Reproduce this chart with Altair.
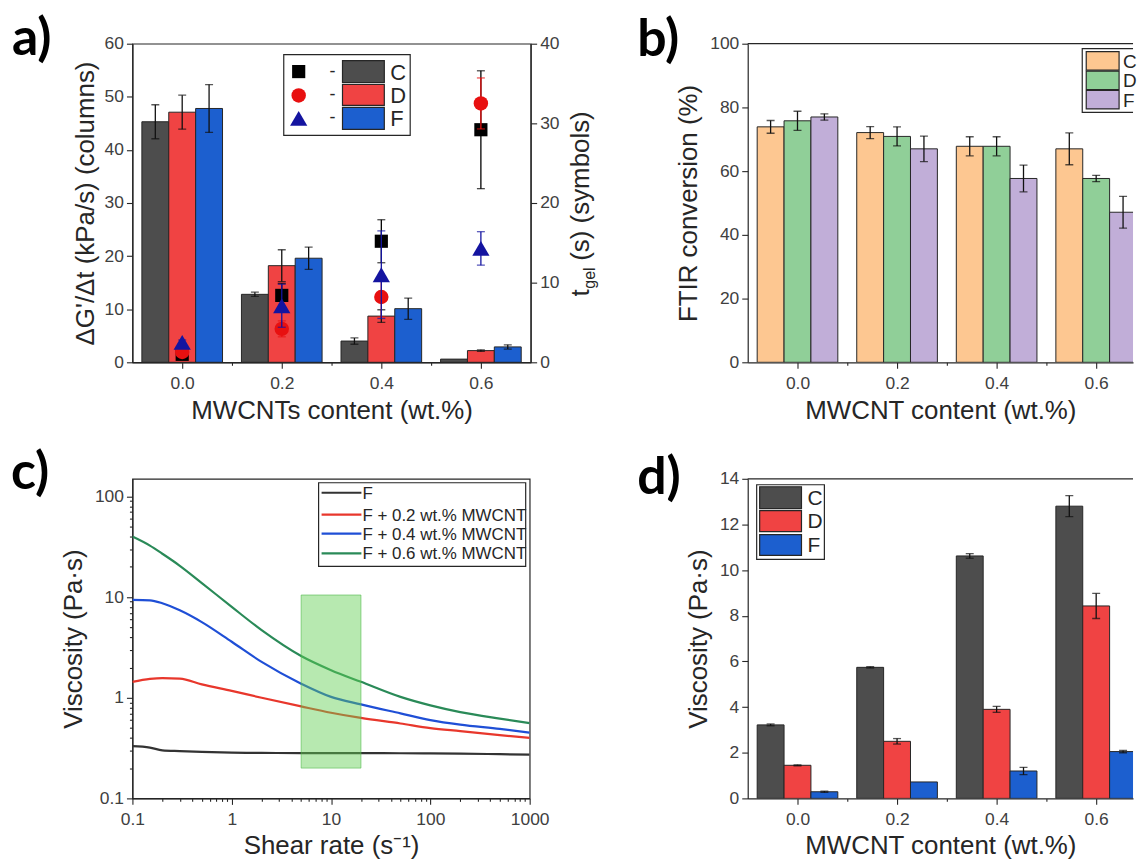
import altair as alt
import pandas as pd

# ------------------------------------------------------------------ data
contents = [0.0, 0.2, 0.4, 0.6]
groups = ["C", "D", "F"]

# a) gelation rate (columns, left axis) and gel time (symbols, right axis)
rate_C = [45.3, 12.8, 4.0, 0.6]
rate_D = [47.1, 18.2, 8.7, 2.2]
rate_F = [47.8, 19.6, 10.1, 2.9]
rate_err_C = [3.2, 0.4, 0.6, 0.0]
rate_err_D = [3.2, 3.0, 1.2, 0.15]
rate_err_F = [4.5, 2.1, 2.0, 0.4]

tgel_C = [1.0, 8.4, 15.2, 29.2]
tgel_D = [1.3, 4.2, 8.2, 32.5]
tgel_F = [2.5, 7.1, 11.0, 14.3]
tgel_err_C = [0.3, 1.5, 2.7, 7.4]
tgel_err_D = [0.4, 1.0, 2.5, 3.2]
tgel_err_F = [0.3, 2.7, 5.5, 2.1]

# b) FTIR conversion
ftir_C = [73.9, 72.1, 67.8, 67.0]
ftir_D = [75.8, 70.9, 67.8, 57.7]
ftir_F = [77.0, 67.0, 57.7, 47.1]
ftir_err_C = [2.0, 1.9, 3.0, 5.0]
ftir_err_D = [3.0, 3.0, 3.0, 1.0]
ftir_err_F = [1.0, 4.0, 4.2, 5.0]

# c) flow curves
shear_rate = [0.1, 0.15, 0.2, 0.3, 0.5, 1, 2, 5, 10, 20, 50, 100, 200, 500, 1000]
eta_F = [0.33, 0.32, 0.30, 0.295, 0.29, 0.285, 0.283, 0.282, 0.282, 0.282, 0.281, 0.28, 0.278, 0.275, 0.272]
eta_F02 = [1.44, 1.54, 1.57, 1.55, 1.36, 1.17, 1.0, 0.82, 0.71, 0.63, 0.555, 0.50, 0.466, 0.425, 0.40]
eta_F04 = [9.4, 9.3, 8.7, 7.4, 5.65, 3.6, 2.27, 1.38, 1.02, 0.86, 0.70, 0.60, 0.54, 0.49, 0.45]
eta_F06 = [40, 32.5, 27, 20.5, 13.8, 8.0, 4.7, 2.6, 1.88, 1.44, 1.02, 0.84, 0.72, 0.62, 0.56]
curve_names = ["F", "F + 0.2 wt.% MWCNT", "F + 0.4 wt.% MWCNT", "F + 0.6 wt.% MWCNT"]
window_rate = [5, 20]
window_eta = [0.2, 10.5]

# d) viscosity
visc_C = [3.22, 5.74, 10.62, 12.8]
visc_D = [1.45, 2.5, 3.9, 8.43]
visc_F = [0.29, 0.72, 1.2, 2.05]
visc_err_C = [0.04, 0.03, 0.1, 0.46]
visc_err_D = [0.02, 0.12, 0.13, 0.55]
visc_err_F = [0.03, 0.0, 0.16, 0.05]

# ------------------------------------------------------------------ style
FONT = "Liberation Sans"
LETTER_FONT = "Lato"
AX = "#262626"
LBL = "#404040"
BAR_COLORS = ["#4d4d4d", "#f04343", "#1c5fcf"]
FTIR_COLORS = ["#fdc791", "#90cf98", "#c1aed8"]
SYM_COLORS = ["#000000", "#e81010", "#1414a0"]
CURVE_COLORS = ["#333333", "#e8372c", "#1f4fd6", "#2a8a58"]
LABEL_SIZE = 17.5
TITLE_SIZE = 26

W_A, H_TOP = 400, 320
W_C, H_BOT = 399, 321
W_R = 387
BAR_W = 0.054
PX_PER_UNIT = 500.0

one = pd.DataFrame({"k": [0]})


def bar_frame(vals, errs):
    rows = []
    for gi, g in enumerate(groups):
        for c, v, e in zip(contents, vals[gi], errs[gi]):
            xc = c + (gi - 1) * BAR_W
            rows.append(dict(group=g, xc=xc, x0=xc - BAR_W / 2, x1=xc + BAR_W / 2,
                             value=v, err=e, lo=v - e, hi=v + e))
    return pd.DataFrame(rows)


def cont_scale(width):
    return alt.Scale(domain=[-0.1, -0.1 + width / PX_PER_UNIT], nice=False, zero=False)


def lin_axis(values, major, fmt, title, orient, **kw):
    return alt.Axis(values=values, title=title, orient=orient,
                    labelExpr=f"({major}) ? format(datum.value, '{fmt}') : ''",
                    tickSize={"condition": {"test": major, "value": 6}, "value": 3},
                    labelOverlap=False, labelFlush=False, grid=False, **kw)


X_TICKS = [round(i * 0.1, 1) for i in range(0, 7)]
X_MAJOR = "abs(datum.value*5 - round(datum.value*5)) < 0.001"


def bars_layer(df, xs, ys, colors, x_title, y_axis, title_pad):
    layers = []
    for gi, g in enumerate(groups):
        d = df[df.group == g]
        if gi == 0:
            xenc = alt.X("x0:Q", scale=xs,
                         axis=lin_axis(X_TICKS, X_MAJOR, ".1f", x_title, "bottom",
                                       labelPadding=6, titlePadding=title_pad))
            yenc = alt.Y("value:Q", scale=ys, axis=y_axis)
        else:
            xenc = alt.X("x0:Q", scale=xs)
            yenc = alt.Y("value:Q", scale=ys)
        layers.append(alt.Chart(d).mark_rect(fill=colors[gi], stroke=AX, strokeWidth=1,
                                             clip=True).encode(
            x=xenc, x2="x1:Q", y=yenc, y2=alt.datum(0)))
    err = df[df.err > 0]
    layers.append(alt.Chart(err).mark_rule(color="#111111", strokeWidth=1.3, clip=True).encode(
        x=alt.X("xc:Q", scale=xs), y=alt.Y("lo:Q", scale=ys), y2="hi:Q"))
    for fld in ["lo", "hi"]:
        layers.append(alt.Chart(err).mark_tick(color="#111111", orient="horizontal", size=8,
                                               thickness=1.3, clip=True).encode(
            x=alt.X("xc:Q", scale=xs), y=alt.Y(f"{fld}:Q", scale=ys)))
    return layers


def txt(text, x, y, size=LABEL_SIZE, align="left", baseline="middle", font=FONT,
        weight="normal", angle=0, color=AX):
    kw = dict(text=text, align=align, baseline=baseline, font=font, fontSize=size,
              fontWeight=weight, color=color)
    if angle:
        kw["angle"] = angle
    return alt.Chart(one).mark_text(**kw).encode(x=alt.value(x), y=alt.value(y))


def box(x, y, x2, y2, fill, stroke=AX, sw=1.2):
    return alt.Chart(one).mark_rect(fill=fill, stroke=stroke, strokeWidth=sw, clip=True).encode(
        x=alt.value(x), x2=alt.value(x2), y=alt.value(y), y2=alt.value(y2))


def letter(ch, x, y):
    return txt(ch, x, y, size=52, baseline="alphabetic", font=LETTER_FONT, weight="bold",
               color="#000000")


# ------------------------------------------------------------------ panel a
df_rate = bar_frame([rate_C, rate_D, rate_F], [rate_err_C, rate_err_D, rate_err_F])
xs_a = cont_scale(W_A)
ys_a = alt.Scale(domain=[0, 60], nice=False)
ys_t = alt.Scale(domain=[0, 40], nice=False)

left_axis_a = lin_axis(list(range(0, 61, 5)), "datum.value % 10 == 0", "d",
                       "ΔG'/Δt (kPa/s) (columns)", "left", titlePadding=6)
left_a = alt.layer(*bars_layer(df_rate, xs_a, ys_a, BAR_COLORS,
                               "MWCNTs content (wt.%)", left_axis_a, 6))

sym_rows = []
for g, vals, errs in zip(groups, [tgel_C, tgel_D, tgel_F], [tgel_err_C, tgel_err_D, tgel_err_F]):
    for c, v, e in zip(contents, vals, errs):
        sym_rows.append(dict(group=g, xc=c, t=v, lo=v - e, hi=v + e))
df_t = pd.DataFrame(sym_rows)
right_axis_a = lin_axis([i * 2.5 for i in range(0, 17)], "datum.value % 5 == 0", "d",
                        None, "right")
SHAPES = ["square", "circle", "triangle-up"]
SYM_SIZES = [175, 210, 300]
right_layers = []
for gi, g in enumerate(groups):
    d = df_t[df_t.group == g]
    yenc = alt.Y("lo:Q", scale=ys_t, axis=right_axis_a) if gi == 0 else alt.Y("lo:Q", scale=ys_t)
    right_layers.append(alt.Chart(d).mark_rule(strokeWidth=1.3, color=SYM_COLORS[gi]).encode(
        x=alt.X("xc:Q", scale=xs_a), y=yenc, y2="hi:Q"))
    for fld in ["lo", "hi"]:
        right_layers.append(alt.Chart(d).mark_tick(orient="horizontal", size=8, thickness=1.3,
                                                   color=SYM_COLORS[gi]).encode(
            x=alt.X("xc:Q", scale=xs_a), y=alt.Y(f"{fld}:Q", scale=ys_t)))
    right_layers.append(alt.Chart(d).mark_point(shape=SHAPES[gi], filled=True, size=SYM_SIZES[gi],
                                                opacity=1, color=SYM_COLORS[gi]).encode(
        x=alt.X("xc:Q", scale=xs_a), y=alt.Y("t:Q", scale=ys_t)))
right_a = alt.layer(*right_layers)

# legend of panel a
leg_a = [box(152, 11, 279, 92, "white")]
for gi, (g, yc, y0, y1) in enumerate(zip(groups, [28, 52, 75], [17, 41, 64], [39, 62, 86])):
    leg_a.append(alt.Chart(one).mark_point(shape=SHAPES[gi], filled=True, opacity=1,
                                           size=SYM_SIZES[gi], color=SYM_COLORS[gi]).encode(
        x=alt.value(167), y=alt.value(yc)))
    leg_a.append(txt("-", 198, yc, size=18))
    leg_a.append(box(211, y0, 253, y1, BAR_COLORS[gi]))
    leg_a.append(txt(g, 259, yc + 1, size=22))

title_r = [
    txt("t", 459, 254, size=TITLE_SIZE, baseline="alphabetic", angle=270),
    txt("gel", 465, 246, size=16, baseline="alphabetic", angle=270),
    txt("(s) (symbols)", 459, 218, size=TITLE_SIZE, baseline="alphabetic", angle=270),
]
anchor = alt.Chart(one).mark_square(size=4, opacity=0).encode(x=alt.value(-131), y=alt.value(-43))

panel_a = alt.layer(left_a, right_a).resolve_scale(y="independent")
panel_a = alt.layer(panel_a, *leg_a, *title_r, letter("a)", -121, 11), anchor).properties(
    width=W_A, height=H_TOP)

# ------------------------------------------------------------------ panel b
df_ftir = bar_frame([ftir_C, ftir_D, ftir_F], [ftir_err_C, ftir_err_D, ftir_err_F])
xs_b = cont_scale(W_R)
ys_b = alt.Scale(domain=[0, 100], nice=False)
axis_b = lin_axis(list(range(0, 101, 10)), "datum.value % 20 == 0", "d",
                  "FTIR conversion (%)", "left", titlePadding=8)
leg_b = [box(336, 5, 420, 69, "white")]
for gi, (g, y0, y1) in enumerate(zip(groups, [8, 27.5, 47], [26.5, 46, 65.5])):
    leg_b.append(box(340, y0, 373, y1, FTIR_COLORS[gi]))
    leg_b.append(txt(g, 377, (y0 + y1) / 2 + 1, size=19))
top_b = alt.Chart(one).mark_rule(color=AX, strokeWidth=1.2).encode(
    x=alt.value(0), x2=alt.value(W_R), y=alt.value(0))
panel_b = alt.layer(*bars_layer(df_ftir, xs_b, ys_b, FTIR_COLORS, "MWCNT content (wt.%)", axis_b, 6),
                    *leg_b, top_b, letter("b)", -111, 12)).properties(
    width=W_R, height=H_TOP, view=alt.ViewBackground(stroke="transparent"))

# ------------------------------------------------------------------ panel c
df_win = pd.DataFrame({"r0": [window_rate[0]], "r1": [window_rate[1]],
                       "e0": [window_eta[0]], "e1": [window_eta[1]]})

LOG_MAJOR = "abs(log(datum.value)/LN10 - round(log(datum.value)/LN10)) < 0.0001"
xc_vals = [round(m * 10 ** k, 6) for k in range(-1, 3) for m in range(1, 10)] + [1000]
yc_vals = [round(m * 10 ** k, 6) for k in range(-1, 2) for m in range(1, 10)] + [100]
xs_c = alt.Scale(type="log", domain=[0.1, 1000], nice=False)
ys_c = alt.Scale(type="log", domain=[0.1, 150], nice=False)
x_axis_c = lin_axis(xc_vals, LOG_MAJOR, "~g", "Shear rate (s⁻¹)", "bottom",
                    labelPadding=6, titlePadding=5)
y_axis_c = lin_axis(yc_vals, LOG_MAJOR, "~g", "Viscosity (Pa·s)", "left", titlePadding=8)

lines_c = []
for ci, (name, vals) in enumerate(zip(curve_names, [eta_F, eta_F02, eta_F04, eta_F06])):
    d = pd.DataFrame({"rate": shear_rate, "eta": vals})
    if ci == 0:
        xenc = alt.X("rate:Q", scale=xs_c, axis=x_axis_c)
        yenc = alt.Y("eta:Q", scale=ys_c, axis=y_axis_c)
    else:
        xenc = alt.X("rate:Q", scale=xs_c)
        yenc = alt.Y("eta:Q", scale=ys_c)
    lines_c.append(alt.Chart(d).mark_line(strokeWidth=2.2, interpolate="monotone", clip=True,
                                          color=CURVE_COLORS[ci]).encode(
        x=xenc, y=yenc, order=alt.Order("rate:Q")))
win_c = alt.Chart(df_win).mark_rect(fill="#5fcf4f", fillOpacity=0.45, stroke="#4fb84a",
                                    strokeOpacity=0.6, strokeWidth=1).encode(
    x=alt.X("r0:Q", scale=xs_c), x2="r1:Q", y=alt.Y("e0:Q", scale=ys_c), y2="e1:Q")
leg_c = [box(187, 4, 395, 88, "white")]
for ci, (name, yc) in enumerate(zip(curve_names, [14, 36, 55, 75])):
    leg_c.append(alt.Chart(one).mark_rule(color=CURVE_COLORS[ci], strokeWidth=2.2).encode(
        x=alt.value(190), x2=alt.value(230), y=alt.value(yc)))
    leg_c.append(txt(name, 231, yc + 1, size=17))
panel_c = alt.layer(*lines_c, win_c, *leg_c, letter("c)", -122, 10)).properties(
    width=W_C, height=H_BOT)

# ------------------------------------------------------------------ panel d
df_visc = bar_frame([visc_C, visc_D, visc_F], [visc_err_C, visc_err_D, visc_err_F])
xs_d = cont_scale(W_R)
ys_d = alt.Scale(domain=[0, 14], nice=False)
axis_d = lin_axis(list(range(0, 15)), "datum.value % 2 == 0", "d",
                  "Viscosity (Pa·s)", "left", titlePadding=8)
leg_d = [box(9, 6, 77, 81, "white")]
for gi, (g, y0, y1) in enumerate(zip(groups, [8, 32, 56], [30, 53, 77])):
    leg_d.append(box(12, y0, 54, y1, BAR_COLORS[gi]))
    leg_d.append(txt(g, 60, (y0 + y1) / 2 + 1, size=21))
top_d = alt.Chart(one).mark_rule(color=AX, strokeWidth=1.2).encode(
    x=alt.value(0), x2=alt.value(W_R), y=alt.value(0))
panel_d = alt.layer(*bars_layer(df_visc, xs_d, ys_d, BAR_COLORS, "MWCNT content (wt.%)", axis_d, 5),
                    *leg_d, top_d, letter("d)", -111, 15)).properties(
    width=W_R, height=H_BOT, view=alt.ViewBackground(stroke="transparent"))

# ------------------------------------------------------------------ assemble
chart = alt.concat(panel_a, panel_b, panel_c, panel_d, columns=2,
                   spacing={"row": 117, "column": 218}, bounds="flush").properties(
    padding={"left": 0, "top": -3, "right": 0, "bottom": 0},
    background="white",
).configure_view(stroke=AX, strokeWidth=1.2).configure_axis(
    labelFont=FONT, labelFontSize=LABEL_SIZE, labelColor=LBL, labelPadding=3,
    titleFont=FONT, titleFontSize=TITLE_SIZE, titleFontWeight="normal", titleColor=AX,
    domainColor=AX, domainWidth=1.2, tickColor=AX, tickWidth=1.1,
)

chart.save("out.html", embed_options={"renderer": "svg", "actions": False})
